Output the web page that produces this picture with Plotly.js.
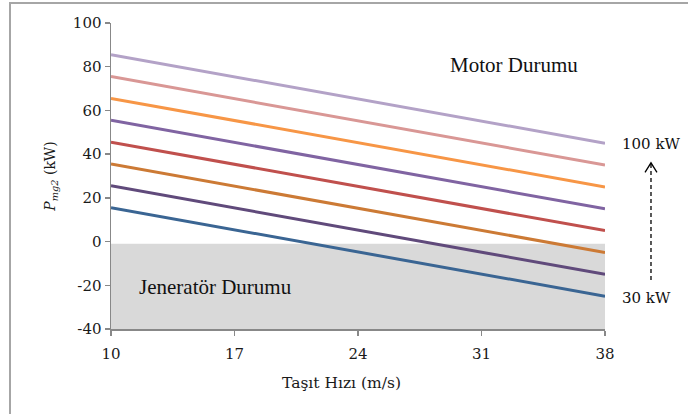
<!DOCTYPE html>
<html>
<head>
<meta charset="utf-8">
<script src="https://cdn.plot.ly/plotly-3.0.1.min.js"></script>
<style>
html,body{margin:0;padding:0;background:#fff;}
#wrap{position:relative;width:688px;height:414px;overflow:hidden;}
#chart{position:absolute;left:0;top:0;width:688px;height:414px;}
#frame{position:absolute;left:9px;top:2px;width:720px;height:440px;border-left:2px solid #a6a6a6;border-top:2px solid #a6a6a6;pointer-events:none;}
</style>
</head>
<body>
<div id="wrap"><div id="chart"></div><div id="frame"></div></div>
<script>
// Vehicle speed (m/s)
const speeds = [10, 38];
// P_mg2 (kW) for each power level, 30 kW ... 100 kW
const p30  = [15.5, -25];
const p40  = [25.5, -15];
const p50  = [35.5, -5];
const p60  = [45.5, 5];
const p70  = [55.5, 15];
const p80  = [65.5, 25];
const p90  = [75.5, 35];
const p100 = [85.5, 45];
const seriesNames = ['30 kW','40 kW','50 kW','60 kW','70 kW','80 kW','90 kW','100 kW'];
const seriesValues = [p30, p40, p50, p60, p70, p80, p90, p100];
const seriesColors = ['#3a6593','#604a7b','#cc7a35','#c0504d','#8064a2','#f79646','#d99795','#b3a2c7'];
const xTicks = [10, 17, 24, 31, 38];
const yTicks = [-40, -20, 0, 20, 40, 60, 80, 100];
// generator region
const genX = [10, 38];
const genY = [-40, -1];

const traces = seriesValues.map((v, i) => ({
  x: speeds, y: v, name: seriesNames[i], type: 'scatter', mode: 'lines',
  line: {color: seriesColors[i], width: 3}, showlegend: false, hoverinfo: 'x+y+name'
}));

const tickFont = {family: 'DejaVu Serif', size: 15, color: '#1a1a1a'};
const axisCol = '#888888';

const layout = {
  width: 688, height: 414,
  margin: {l: 111, r: 83, t: 23, b: 85},
  paper_bgcolor: '#ffffff', plot_bgcolor: 'rgba(0,0,0,0)',
  showlegend: false,
  xaxis: {
    range: [10, 38], tickvals: xTicks, ticktext: xTicks.map(String),
    showgrid: false, zeroline: false, showline: true, linecolor: axisCol, linewidth: 1.5,
    ticks: 'outside', ticklen: 5, tickcolor: axisCol, tickwidth: 1.5,
    tickfont: tickFont, ticklabelstandoff: 5, fixedrange: true
  },
  yaxis: {
    range: [-40, 100], tickvals: yTicks, ticktext: yTicks.map(String),
    showgrid: false, zeroline: false, showline: true, linecolor: axisCol, linewidth: 1.5,
    ticks: 'outside', ticklen: 5, tickcolor: axisCol, tickwidth: 1.5,
    tickfont: tickFont, fixedrange: true,
    title: {text: '<i>P</i><sub><i>mg2</i></sub> (kW)', font: {family: 'DejaVu Serif', size: 14, color: '#1a1a1a'}, standoff: 14}
  },
  shapes: [
    {type: 'rect', xref: 'x', yref: 'y', x0: genX[0], x1: genX[1], y0: genY[0], y1: genY[1],
     fillcolor: '#d9d9d9', line: {width: 0}, layer: 'below'},
    {type: 'line', xref: 'paper', yref: 'paper', x0: 1.0931, x1: 1.0931, y0: 0.160, y1: 0.540,
     line: {color: '#000', width: 1.3, dash: '4px,3px'}},
    {type: 'path', xref: 'paper', yref: 'paper',
     path: 'M 1.0810 0.512 L 1.0931 0.543 L 1.1052 0.512',
     line: {color: '#000', width: 1.3}}
  ],
  annotations: [
    {xref: 'paper', yref: 'paper', x: (341-111)/494, y: (329-383)/306, text: 'Taşıt Hızı (m/s)',
     showarrow: false, xanchor: 'center', yanchor: 'middle',
     font: {family: 'DejaVu Serif', size: 15.5, color: '#1a1a1a'}},
    {xref: 'paper', yref: 'paper', x: (514-111)/494, y: (329-65)/306, text: 'Motor Durumu',
     showarrow: false, xanchor: 'center', yanchor: 'middle',
     font: {family: 'Liberation Serif', size: 21, color: '#111'}},
    {xref: 'paper', yref: 'paper', x: (215-111)/494, y: (329-287)/306, text: 'Jeneratör Durumu',
     showarrow: false, xanchor: 'center', yanchor: 'middle',
     font: {family: 'Liberation Serif', size: 21, color: '#111'}},
    {xref: 'paper', yref: 'paper', x: (651-111)/494, y: (329-144)/306, text: '100 kW',
     showarrow: false, xanchor: 'center', yanchor: 'middle',
     font: {family: 'DejaVu Serif', size: 15, color: '#111'}},
    {xref: 'paper', yref: 'paper', x: (646-111)/494, y: (329-298)/306, text: '30 kW',
     showarrow: false, xanchor: 'center', yanchor: 'middle',
     font: {family: 'DejaVu Serif', size: 15, color: '#111'}}
  ]
};

Plotly.newPlot('chart', traces, layout, {displayModeBar: false, staticPlot: true});
</script>
</body>
</html>
